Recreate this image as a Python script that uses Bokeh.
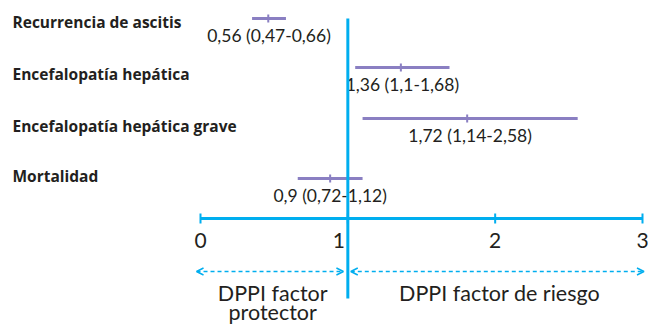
from bokeh.plotting import figure
from bokeh.models import Range1d, Arrow, OpenHead, ColumnDataSource
from bokeh.core.properties import value
from bokeh.embed import file_html
from bokeh.resources import INLINE

# ---- data ----
categories = ["Recurrencia de ascitis", "Encefalopatía hepática",
              "Encefalopatía hepática grave", "Mortalidad"]
estimate = [0.46, 1.36, 1.81, 0.88]      # drawn point estimate
ci_low = [0.35, 1.05, 1.10, 0.66]        # drawn interval
ci_high = [0.58, 1.69, 2.56, 1.10]
value_labels = ["0,56 (0,47-0,66)", "1,36 (1,1-1,68)",
                "1,72 (1,14-2,58)", "0,9 (0,72-1,12)"]
tick_values = [0, 1, 2, 3]
tick_labels = ["0", "1", "2", "3"]
region_labels = ["DPPI factor", "protector", "DPPI factor de riesgo"]

# ---- layout (pixel rows) ----
row_y = [18, 67, 118, 178]
cat_y = [21, 73, 125, 175]
axis_y = 218
arrow_y = 271

W, H = 648, 325
s = 442 / 3.0
x0_px = 200
p = figure(width=W, height=H, output_backend="svg", toolbar_location=None,
           x_range=Range1d(-x0_px / s, (W - x0_px) / s),
           y_range=Range1d(H, 0), min_border=0)
p.axis.visible = False
p.grid.visible = False
p.outline_line_color = None
p.background_fill_color = "white"
p.border_fill_color = "white"

BLUE = "#00aeef"
PURPLE = "#8a7fc2"
TXT = "#231f20"
FONT = value("Lato")

# category labels
cat_x = [-(x0_px - 12) / s] * len(categories)
p.text(x=cat_x, y=cat_y, text=categories, text_font=value("Open Sans"),
       text_font_style="bold", text_font_size="15.5px", text_color=TXT,
       text_align="left", text_baseline="middle")

# interval bars
src = ColumnDataSource(dict(lo=ci_low, hi=ci_high, est=estimate, y=row_y,
                            ytop=[y - 4 for y in row_y], ybot=[y + 4 for y in row_y],
                            lab=value_labels,
                            mid=[(a + b) / 2 for a, b in zip(ci_low, ci_high)],
                            ylab=[y + 17 for y in row_y]))
p.segment(x0="lo", x1="hi", y0="y", y1="y", source=src, line_color=PURPLE,
          line_width=3)
p.segment(x0="est", x1="est", y0="ytop", y1="ybot", source=src,
          line_color=PURPLE, line_width=2)
p.text(x="mid", y="ylab", text="lab", source=src, text_font=FONT,
       text_font_size="17.5px", text_color=TXT, text_align="center",
       text_baseline="middle")

# reference vertical line at 1
p.segment(x0=[1], x1=[1], y0=[18], y1=[298], line_color=BLUE, line_width=3)

# axis
p.segment(x0=[tick_values[0]], x1=[tick_values[-1]], y0=[axis_y], y1=[axis_y],
          line_color=BLUE, line_width=3)
p.segment(x0=tick_values, x1=tick_values, y0=[axis_y - 5] * 4,
          y1=[axis_y + 5] * 4, line_color=BLUE, line_width=2)
tick_src = ColumnDataSource(dict(x=tick_values, y=[axis_y + 22] * 4,
                                 t=tick_labels, off=[0, -9, 0, 0]))
p.text(x="x", y="y", text="t", x_offset="off", source=tick_src,
       text_font=FONT, text_font_size="21px", text_color=TXT,
       text_align="center", text_baseline="middle")

# dashed arrows
for xs, xe in [(-0.027, 0.97), (1.02, 3.01)]:
    p.add_layout(Arrow(x_start=xs, x_end=xe, y_start=arrow_y, y_end=arrow_y,
                       line_color=BLUE, line_width=1.5, line_dash="4 3",
                       start=OpenHead(size=7, line_color=BLUE, line_width=1.5),
                       end=OpenHead(size=7, line_color=BLUE, line_width=1.5)))

# region labels
p.text(x=[0.49, 0.49, 2.03], y=[292, 311, 292], text=region_labels,
       text_font=FONT, text_font_size="21.5px", text_color=TXT,
       text_align="center", text_baseline="middle")

open("out.html", "w").write(file_html(p, INLINE))
